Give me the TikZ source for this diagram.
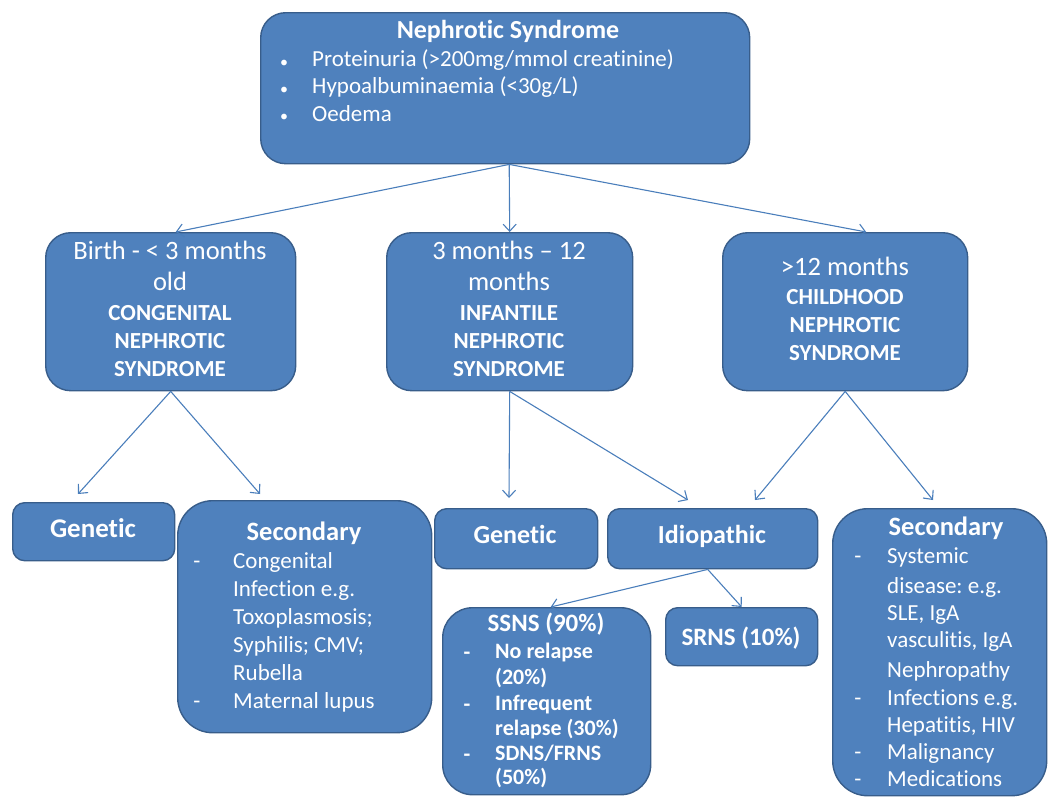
\documentclass[tikz,border=0pt]{standalone}
\usepackage{fontspec}
\setmainfont{Carlito}[Ligatures=NoCommon]
\usetikzlibrary{arrows.meta}
\frenchspacing
\definecolor{boxc}{HTML}{4F81BD}
\definecolor{bordc}{HTML}{385D8A}
\definecolor{arrc}{HTML}{4A7EBB}
\newcommand\fz[2]{\fontsize{#1}{#2}\selectfont}
\tikzset{
  box/.style={draw=bordc, fill=boxc, line width=1.4pt, inner sep=0pt, anchor=north west, rectangle},
  tx/.style={text=white, inner sep=0pt, anchor=mid, yshift=-3.5pt},
  txl/.style={text=white, inner sep=0pt, anchor=mid west, yshift=-3.5pt},
  conn/.style={draw=arrc, line width=1.1pt, -{Straight Barb[length=7pt,width=13pt]}},
  ageR/.style={tx, font=\fz{26.5}{30}},
  ageB/.style={tx, font=\bfseries\fz{23}{26}},
  itm/.style={txl, font=\fz{23}{27}},
  dsh/.style={tx, font=\fz{23}{27}},
  itmB/.style={txl, font=\bfseries\fz{22}{26}},
  dshB/.style={tx, font=\bfseries\fz{22}{26}},
}
\begin{document}
\begin{tikzpicture}[x=1pt,y=-1pt]
\useasboundingbox (0,0) rectangle (1049,796);
\clip (0,0) rectangle (1049,796);
% ---------- boxes
\node[box, rounded corners=25pt, minimum width=489pt, minimum height=151pt] (top) at (260,12) {};
\node[box, rounded corners=25pt, minimum width=250pt, minimum height=158pt] (age1) at (45,232) {};
\node[box, rounded corners=25pt, minimum width=246pt, minimum height=158pt] (age2) at (386,232) {};
\node[box, rounded corners=25pt, minimum width=245pt, minimum height=158pt] (age3) at (722,232) {};
\node[box, rounded corners=12pt, minimum width=162pt, minimum height=58pt] (gen1) at (12,502) {};
\node[box, rounded corners=35pt, minimum width=254pt, minimum height=232pt] (sec1) at (177,500) {};
\node[box, rounded corners=12pt, minimum width=163pt, minimum height=60pt] (gen2) at (434,508) {};
\node[box, rounded corners=12pt, minimum width=210pt, minimum height=60pt] (idio) at (607,508) {};
\node[box, rounded corners=30pt, minimum width=208pt, minimum height=187pt] (ssns) at (442,607) {};
\node[box, rounded corners=12pt, minimum width=152pt, minimum height=58pt] (srns) at (665,607) {};
\node[box, rounded corners=35pt, minimum width=214pt, minimum height=287pt] (sec2) at (832,508) {};
% ---------- top text
\node[tx, font=\bfseries\fz{26}{30}] (ttl) at (508,33) {Nephrotic Syndrome};
\node[tx, font=\fz{16}{20}] (tb1) at (284,62) {•};
\node[tx, font=\fz{16}{20}] (tb2) at (284,89) {•};
\node[tx, font=\fz{16}{20}] (tb3) at (284,116) {•};
\node[txl, font=\fz{23}{27}] (tl1) at (312,61) {Proteinuria (>200mg/mmol creatinine)};
\node[txl, font=\fz{23}{27}] (tl2) at (312,88) {Hypoalbuminaemia (<30g/L)};
\node[txl, font=\fz{23}{27}] (tl3) at (312,116) {Oedema};
% ---------- age boxes text
\node[ageR] (a1l1) at (170,254) {Birth - < 3 months};
\node[ageR] (a1l2) at (170,285) {old};
\node[ageB] (a1l3) at (170,315) {CONGENITAL};
\node[ageB] (a1l4) at (170,343) {NEPHROTIC};
\node[ageB] (a1l5) at (170,371) {SYNDROME};
\node[ageR] (a2l1) at (509,254) {3 months – 12};
\node[ageR] (a2l2) at (509,285) {months};
\node[ageB] (a2l3) at (509,315) {INFANTILE};
\node[ageB] (a2l4) at (509,343) {NEPHROTIC};
\node[ageB] (a2l5) at (509,371) {SYNDROME};
\node[ageR] (a3l1) at (845,270) {>12 months};
\node[ageB] (a3l2) at (845,299) {CHILDHOOD};
\node[ageB] (a3l3) at (845,327) {NEPHROTIC};
\node[ageB] (a3l4) at (845,355) {SYNDROME};
% ---------- bottom text
\node[tx, font=\bfseries\fz{27}{30}] (g1t) at (93,532) {Genetic};
\node[tx, font=\bfseries\fz{26.5}{30}] (s1t) at (304,535) {Secondary};
\node[dsh] (s1d1) at (197,563) {-};
\node[dsh] (s1d2) at (197,703) {-};
\node[itm] (s1l1) at (233,563) {Congenital};
\node[itm] (s1l2) at (233,591) {Infection e.g.};
\node[itm] (s1l3) at (233,619) {Toxoplasmosis;};
\node[itm] (s1l4) at (233,647) {Syphilis; CMV;};
\node[itm] (s1l5) at (233,675) {Rubella};
\node[itm] (s1l6) at (233,703) {Maternal lupus};
\node[tx, font=\bfseries\fz{26}{30}] (g2t) at (515,538) {Genetic};
\node[tx, font=\bfseries\fz{26}{30}] (it) at (712,538) {Idiopathic};
\node[tx, font=\bfseries\fz{25}{28}] (sst) at (546,626) {SSNS (90\%)};
\node[dshB] (ssd1) at (467,654) {-};
\node[dshB] (ssd2) at (467,706) {-};
\node[dshB] (ssd3) at (467,756) {-};
\node[itmB] (ssl1) at (495,653) {No relapse};
\node[itmB] (ssl2) at (495,679) {(20\%)};
\node[itmB] (ssl3) at (495,705) {Infrequent};
\node[itmB] (ssl4) at (495,730) {relapse (30\%)};
\node[itmB] (ssl5) at (495,755) {SDNS/FRNS};
\node[itmB] (ssl6) at (495,779) {(50\%)};
\node[tx, font=\bfseries\fz{25}{28}] (srt) at (741,640) {SRNS (10\%)};
\node[tx, font=\bfseries\fz{26.5}{30}] (s2t) at (946,530) {Secondary};
\node[dsh] (s2d1) at (858,558) {-};
\node[dsh] (s2d2) at (858,700) {-};
\node[dsh] (s2d3) at (858,754) {-};
\node[dsh] (s2d4) at (858,781) {-};
\node[itm] (s2l1) at (887,558) {Systemic};
\node[itm] (s2l2) at (887,588) {disease: e.g.};
\node[itm] (s2l3) at (887,615) {SLE, IgA};
\node[itm] (s2l4) at (887,642) {vasculitis, IgA};
\node[itm] (s2l5) at (887,672) {Nephropathy};
\node[itm] (s2l6) at (887,700) {Infections e.g.};
\node[itm] (s2l7) at (887,727) {Hepatitis, HIV};
\node[itm] (s2l8) at (887,754) {Malignancy};
\node[itm] (s2l9) at (887,781) {Medications};
% ---------- arrow ends
\coordinate (e1a) at (78,494);
\coordinate (e1b) at (260,494);
\coordinate (e2a) at (509,498);
\coordinate (e2b) at (688,500);
\coordinate (e3a) at (755,500);
\coordinate (e3b) at (933,500);
% ---------- connectors
\draw[conn] ([xshift=4pt]top.south) -- ([xshift=5pt]age1.north);
\draw[conn] ([xshift=4pt]top.south) -- ([xshift=0pt]age2.north);
\draw[conn] ([xshift=4pt]top.south) -- ([xshift=21pt]age3.north);
\draw[conn] (age1.south) -- (e1a);
\draw[conn] (age1.south) -- (e1b);
\draw[conn] (age2.south) -- (e2a);
\draw[conn] (age2.south) -- (e2b);
\draw[conn] (age3.south) -- (e3a);
\draw[conn] (age3.south) -- (e3b);
\draw[conn] ([xshift=-5pt]idio.south) -- ([xshift=4pt]ssns.north);
\draw[conn] ([xshift=-5pt]idio.south) -- (srns.north);
\end{tikzpicture}
\end{document}
